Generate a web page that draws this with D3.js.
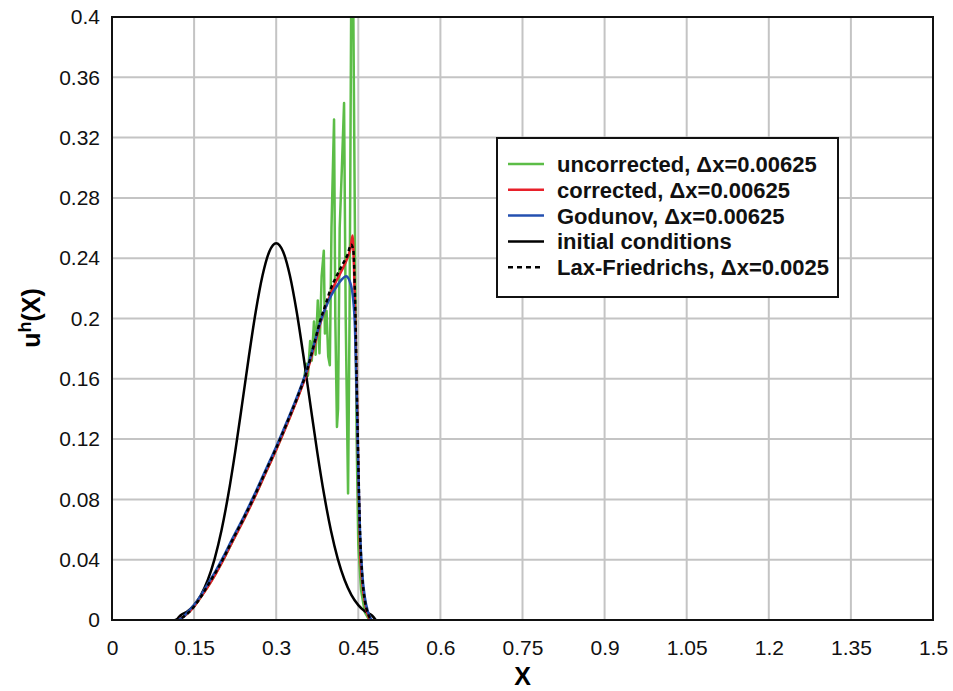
<!DOCTYPE html>
<html>
<head>
<meta charset="utf-8">
<script src="https://cdn.jsdelivr.net/npm/d3@7"></script>
<style>
  body { margin: 0; background: #fff; }
  svg { display: block; font-family: Arial, 'Liberation Sans', sans-serif; }
</style>
</head>
<body>
<div id="chart"></div>
<script>
// tick values / labels
const xTicks = [0, 0.15, 0.3, 0.45, 0.6, 0.75, 0.9, 1.05, 1.2, 1.35, 1.5];
const xTickLabels = ['0', '0.15', '0.3', '0.45', '0.6', '0.75', '0.9', '1.05', '1.2', '1.35', '1.5'];
const yTicks = [0, 0.04, 0.08, 0.12, 0.16, 0.2, 0.24, 0.28, 0.32, 0.36, 0.4];
const yTickLabels = ['0', '0.04', '0.08', '0.12', '0.16', '0.2', '0.24', '0.28', '0.32', '0.36', '0.4'];

// series, [x, u] pairs
const initialConditions = [
  [0.118, 0], [0.125, 0.003], [0.1375, 0.0056], [0.15, 0.0099], [0.1625, 0.0165],
  [0.175, 0.0265], [0.1875, 0.0406], [0.2, 0.0594], [0.2125, 0.0832], [0.225, 0.1114],
  [0.2375, 0.1427], [0.25, 0.1746], [0.2625, 0.2043], [0.275, 0.2285], [0.2875, 0.2445],
  [0.3, 0.25], [0.3125, 0.2445], [0.325, 0.2285], [0.3375, 0.2043], [0.35, 0.1746],
  [0.3625, 0.1427], [0.375, 0.1114], [0.3875, 0.0832], [0.4, 0.0594], [0.4125, 0.0406],
  [0.425, 0.0265], [0.4375, 0.0165], [0.45, 0.0099], [0.4625, 0.0056], [0.475, 0.003], [0.482, 0]
];

const corrected = [
  [0.12, 0], [0.13, 0.002], [0.14, 0.005], [0.15, 0.009], [0.16, 0.014], [0.175, 0.022],
  [0.19, 0.031], [0.205, 0.041], [0.22, 0.052], [0.24, 0.066], [0.26, 0.081], [0.28, 0.097],
  [0.3, 0.113], [0.32, 0.13], [0.34, 0.148], [0.355, 0.163], [0.37, 0.182], [0.38, 0.196],
  [0.39, 0.207], [0.4, 0.217], [0.41, 0.225], [0.42, 0.232], [0.43, 0.24], [0.436, 0.247],
  [0.4395, 0.255], [0.442, 0.235], [0.445, 0.19], [0.448, 0.14], [0.45, 0.1], [0.453, 0.05],
  [0.457, 0.026], [0.463, 0.01], [0.471, 0]
];

const godunov = [
  [0.12, 0], [0.13, 0.002], [0.14, 0.006], [0.15, 0.01], [0.16, 0.015], [0.175, 0.024],
  [0.19, 0.033], [0.205, 0.043], [0.22, 0.054], [0.24, 0.068], [0.26, 0.083], [0.28, 0.099],
  [0.3, 0.115], [0.32, 0.132], [0.34, 0.15], [0.355, 0.165], [0.37, 0.184], [0.38, 0.197],
  [0.39, 0.207], [0.4, 0.215], [0.41, 0.221], [0.42, 0.226], [0.4276, 0.228], [0.434, 0.225],
  [0.44, 0.215], [0.444, 0.193], [0.447, 0.15], [0.45, 0.1], [0.453, 0.06], [0.457, 0.032],
  [0.462, 0.015], [0.468, 0.005], [0.474, 0]
];

const laxFriedrichs = [
  [0.115, 0], [0.13, 0.002], [0.14, 0.005], [0.15, 0.009], [0.16, 0.014], [0.175, 0.023],
  [0.19, 0.032], [0.205, 0.042], [0.22, 0.053], [0.24, 0.067], [0.26, 0.082], [0.28, 0.098],
  [0.3, 0.114], [0.32, 0.131], [0.34, 0.149], [0.355, 0.164], [0.37, 0.184], [0.38, 0.198],
  [0.39, 0.209], [0.4, 0.22], [0.41, 0.228], [0.42, 0.235], [0.43, 0.242], [0.437, 0.249],
  [0.441, 0.245], [0.444, 0.215], [0.447, 0.16], [0.45, 0.105], [0.453, 0.06], [0.457, 0.03],
  [0.462, 0.013], [0.468, 0.004], [0.474, 0]
];

const uncorrected = [
  [0.12, 0], [0.13, 0.002], [0.14, 0.005], [0.15, 0.009], [0.16, 0.014], [0.175, 0.022],
  [0.19, 0.031], [0.205, 0.041], [0.22, 0.052], [0.24, 0.066], [0.26, 0.081], [0.28, 0.097],
  [0.3, 0.113], [0.32, 0.13], [0.34, 0.148], [0.35, 0.158], [0.355, 0.17], [0.358, 0.162],
  [0.362, 0.185], [0.365, 0.172], [0.369, 0.198], [0.372, 0.176], [0.376, 0.212], [0.379, 0.177],
  [0.383, 0.228], [0.387, 0.245], [0.389, 0.19], [0.392, 0.205], [0.395, 0.175], [0.398, 0.169],
  [0.401, 0.26], [0.4057, 0.332], [0.408, 0.2], [0.411, 0.128], [0.413, 0.14], [0.416, 0.26],
  [0.42, 0.3], [0.424, 0.343], [0.427, 0.2], [0.4313, 0.084], [0.434, 0.2], [0.4376, 0.45],
  [0.441, 0.4], [0.444, 0.25], [0.447, 0.12], [0.45, 0.05], [0.455, 0.02], [0.462, 0.005], [0.47, 0]
];

const legendLabels = [
  'uncorrected, \u0394x=0.00625',
  'corrected, \u0394x=0.00625',
  'Godunov, \u0394x=0.00625',
  'initial conditions',
  'Lax-Friedrichs, \u0394x=0.0025'
];

const W = 953, H = 691;
const margin = { top: 17, right: 20, bottom: 71, left: 112 };
const width = W - margin.left - margin.right;
const height = H - margin.top - margin.bottom;

const svg = d3.select('#chart').append('svg')
  .attr('width', W)
  .attr('height', H);

const g = svg.append('g')
  .attr('transform', 'translate(' + margin.left + ',' + margin.top + ')');

const x = d3.scaleLinear().domain([0, 1.5]).range([0, width]);
const y = d3.scaleLinear().domain([0, 0.4]).range([height, 0]);

// grid
g.append('g').selectAll('line').data(xTicks.slice(1, -1)).join('line')
  .attr('x1', d => x(d)).attr('x2', d => x(d))
  .attr('y1', 0).attr('y2', height)
  .attr('stroke', '#c4c4c4').attr('stroke-width', 2);
g.append('g').selectAll('line').data(yTicks.slice(1, -1)).join('line')
  .attr('x1', 0).attr('x2', width)
  .attr('y1', d => y(d)).attr('y2', d => y(d))
  .attr('stroke', '#c4c4c4').attr('stroke-width', 2);

// axes (labels only, frame drawn separately)
const xAxis = d3.axisBottom(x).tickValues(xTicks)
  .tickFormat((d, i) => xTickLabels[i]).tickSize(0).tickPadding(20);
const yAxis = d3.axisLeft(y).tickValues(yTicks)
  .tickFormat((d, i) => yTickLabels[i]).tickSize(0).tickPadding(12);

const gx = g.append('g').attr('transform', 'translate(0,' + height + ')').call(xAxis);
const gy = g.append('g').call(yAxis);
[gx, gy].forEach(a => {
  a.select('.domain').remove();
  a.selectAll('text').attr('font-size', 21).attr('fill', '#111')
    .attr('font-family', "Arial, 'Liberation Sans', sans-serif");
});

// curves
g.append('clipPath').attr('id', 'plotclip')
  .append('rect').attr('width', width).attr('height', height);

const line = d3.line().x(d => x(d[0])).y(d => y(d[1]));
const smooth = d3.line().x(d => x(d[0])).y(d => y(d[1])).curve(d3.curveMonotoneX);
const curves = g.append('g').attr('clip-path', 'url(#plotclip)');

const series = [
  { data: uncorrected, color: '#5cbd47', dash: null, gen: line },
  { data: initialConditions, color: '#000', dash: null, gen: smooth },
  { data: corrected, color: '#e8202a', dash: null, gen: smooth },
  { data: godunov, color: '#2450b0', dash: null, gen: smooth },
  { data: laxFriedrichs, color: '#000', dash: '4,3', gen: smooth }
];

series.forEach(s => {
  curves.append('path')
    .datum(s.data)
    .attr('d', s.gen)
    .attr('fill', 'none')
    .attr('stroke', s.color)
    .attr('stroke-width', 2.5)
    .attr('stroke-linejoin', 'round')
    .attr('stroke-dasharray', s.dash);
});

// frame
g.append('rect')
  .attr('width', width).attr('height', height)
  .attr('fill', 'none').attr('stroke', '#111').attr('stroke-width', 2);

// axis titles
svg.append('text')
  .attr('x', margin.left + x(0.75)).attr('y', 685)
  .attr('text-anchor', 'middle')
  .attr('font-size', 25).attr('font-weight', 'bold')
  .text('X');

const yTitle = svg.append('text')
  .attr('transform', 'translate(40,318) rotate(-90)')
  .attr('text-anchor', 'middle')
  .attr('font-size', 25).attr('font-weight', 'bold');
yTitle.append('tspan').text('u');
yTitle.append('tspan').attr('dy', -9).attr('font-size', 18).text('h');
yTitle.append('tspan').attr('dy', 9).text('(X)');

// legend
const legend = svg.append('g').attr('transform', 'translate(497,138)');
legend.append('rect')
  .attr('width', 341).attr('height', 159)
  .attr('fill', '#fff').attr('stroke', '#111').attr('stroke-width', 2);

const legendOrder = [0, 2, 3, 1, 4];
legendLabels.forEach((label, i) => {
  const s = series[legendOrder[i]];
  const ly = 26 + i * 25.8;
  legend.append('line')
    .attr('x1', 11).attr('x2', 47).attr('y1', ly).attr('y2', ly)
    .attr('stroke', s.color).attr('stroke-width', 2.5)
    .attr('stroke-dasharray', s.dash ? '5,4' : null);
  legend.append('text')
    .attr('x', 60).attr('y', ly).attr('dy', '0.36em')
    .attr('font-size', 22).attr('font-weight', 'bold').attr('fill', '#111')
    .text(label);
});
</script>
</body>
</html>
